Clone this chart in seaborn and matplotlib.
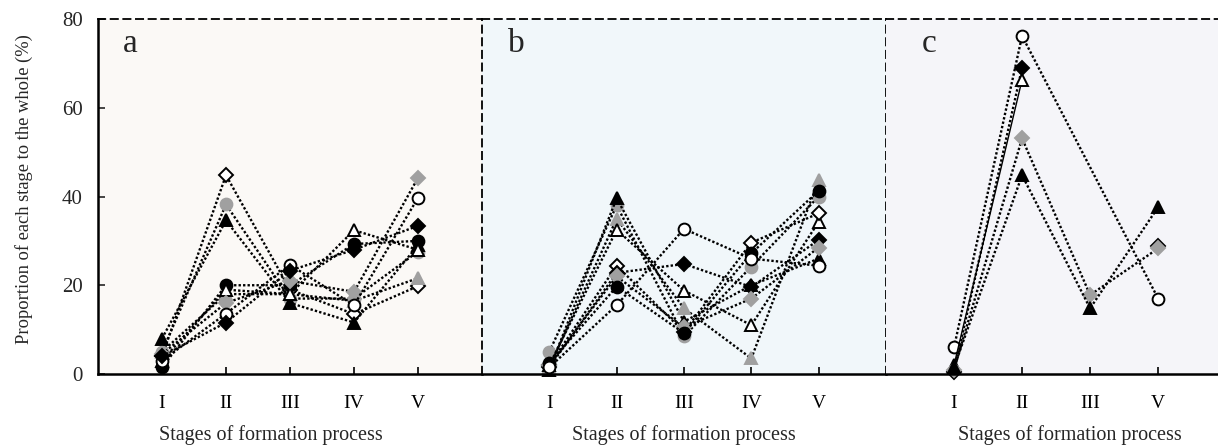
import numpy as np
import pandas as pd
import matplotlib
matplotlib.use("Agg")
import matplotlib.pyplot as plt
import seaborn as sns

sns.set_theme(style="white")
plt.rcParams['font.family'] = ['Liberation Serif', 'DejaVu Serif']

# ---------------- data ----------------
stages_ab = ["I", "II", "III", "IV", "V"]
stages_c = ["I", "II", "III", "V"]

# panel a
a_open_diamond = [4.0, 44.8, 19.0, 13.5, 19.8]
a_gray_circle = [5.0, 38.2, 17.0, 17.0, 27.6]
a_black_triangle = [8.0, 34.6, 16.0, 11.6, 29.0]
a_black_circle = [1.5, 20.0, 20.0, 29.3, 30.0]
a_open_triangle = [3.0, 19.0, 18.0, 32.4, 28.0]
a_gray_diamond = [4.5, 16.0, 21.0, 18.5, 44.2]
a_open_circle = [3.0, 13.6, 24.6, 15.5, 39.7]
a_black_diamond = [4.0, 11.6, 23.3, 28.0, 33.4]
a_gray_triangle = [5.0, 18.0, 18.0, 16.5, 21.6]

# panel b
b_black_triangle = [1.0, 39.6, 11.8, 20.0, 26.0]
b_gray_triangle = [1.5, 35.0, 14.8, 3.5, 43.7]
b_open_triangle = [2.0, 32.5, 18.8, 11.0, 34.3]
b_open_diamond = [2.0, 24.4, 9.5, 29.6, 36.2]
b_black_diamond = [1.5, 22.8, 24.8, 19.6, 30.2]
b_gray_diamond = [2.0, 22.0, 10.5, 17.0, 28.5]
b_black_circle = [2.4, 19.7, 9.2, 27.2, 41.3]
b_open_circle = [1.5, 15.5, 32.7, 26.0, 24.4]
b_gray_circle = [5.0, 38.0, 8.5, 24.2, 40.0]

# panel c (NaN = no value)
c_open_circle = [6.0, 76.2, np.nan, 17.0]
c_black_diamond = [0.5, 69.0, np.nan, 28.9]
c_open_triangle = [2.0, 66.3, np.nan, np.nan]
c_gray_diamond = [1.0, 53.1, 17.8, 28.3]
c_black_triangle = [1.5, 44.8, 14.8, 37.6]

yticks = [0, 20, 40, 60, 80]
xlabel = "Stages of formation process"
ylabel = "Proportion of each stage to the whole (%)"

GRAY = "#a0a0a0"
styles = {
    "open_circle": ("o", "white", "black"),
    "black_circle": ("o", "black", "black"),
    "gray_circle": ("o", GRAY, GRAY),
    "open_triangle": ("^", "white", "black"),
    "black_triangle": ("^", "black", "black"),
    "gray_triangle": ("^", GRAY, GRAY),
    "open_diamond": ("D", "white", "black"),
    "black_diamond": ("D", "black", "black"),
    "gray_diamond": ("D", GRAY, GRAY),
}

panel_a = {
    "open_diamond": a_open_diamond, "gray_triangle": a_gray_triangle,
    "gray_circle": a_gray_circle,
    "black_triangle": a_black_triangle, "black_circle": a_black_circle,
    "open_triangle": a_open_triangle, "gray_diamond": a_gray_diamond,
    "open_circle": a_open_circle, "black_diamond": a_black_diamond,
}
panel_b = {
    "gray_circle": b_gray_circle,
    "black_triangle": b_black_triangle, "gray_triangle": b_gray_triangle,
    "open_triangle": b_open_triangle, "open_diamond": b_open_diamond,
    "black_diamond": b_black_diamond, "gray_diamond": b_gray_diamond,
    "black_circle": b_black_circle, "open_circle": b_open_circle,
}
panel_c = {
    "open_circle": c_open_circle, "black_diamond": c_black_diamond,
    "open_triangle": c_open_triangle, "gray_diamond": c_gray_diamond,
    "black_triangle": c_black_triangle,
}
# series that connect across a missing stage
bridge_c = {"open_circle"}
solid_c = {"open_triangle"}

W, H = 1218, 445
fig = plt.figure(figsize=(W / 100, H / 100), dpi=100)
bot, top = 374, 19
def pos(x0, x1):
    return [x0 / W, 1 - bot / H, (x1 - x0) / W, (bot - top) / H]

ax_a = fig.add_axes(pos(98, 482))
ax_b = fig.add_axes(pos(482, 886))
ax_c = fig.add_axes(pos(886, 1218))

bgs = ["#fbf9f6", "#f1f7fa", "#f5f5f9"]


def draw(ax, data, stages, bridge=(), solid=()):
    xs = np.arange(1, len(stages) + 1)
    for name, vals in data.items():
        m, fc, ec = styles[name]
        vals = np.asarray(vals, dtype=float)
        ok = ~np.isnan(vals)
        if name in bridge:
            segs = [np.where(ok)[0]]
        else:
            segs, cur = [], []
            for i, v in enumerate(ok):
                if v:
                    cur.append(i)
                elif cur:
                    segs.append(cur); cur = []
            if cur:
                segs.append(cur)
        ls = "-" if name in solid else (0, (1, 0.9))
        lw = 1.0 if name in solid else 1.7
        for seg in segs:
            seg = np.asarray(seg)
            df = pd.DataFrame({"x": xs[seg], "y": vals[seg]})
            sns.lineplot(data=df, x="x", y="y", ax=ax, color="black",
                         linestyle=ls, linewidth=lw, marker=m,
                         markersize=8.5 if m != "D" else 7.2,
                         markerfacecolor=fc, markeredgecolor=ec,
                         markeredgewidth=1.4, clip_on=False, sort=False,
                         estimator=None)


draw(ax_a, panel_a, stages_ab)
draw(ax_b, panel_b, stages_ab)
draw(ax_c, panel_c, stages_c, bridge=bridge_c, solid=solid_c)

for ax, bg, stg, letter, lx, xmax in [
    (ax_a, bgs[0], stages_ab, "a", 0.085, 6.0),
    (ax_b, bgs[1], stages_ab, "b", 0.085, 6.0),
    (ax_c, bgs[2], stages_c, "c", 0.13, 4.88),
]:
    ax.set_facecolor(bg)
    ax.set_xlim(0, xmax)
    ax.set_ylim(0, 80)
    ax.set_xticks(np.arange(1, len(stg) + 1))
    ax.set_xticklabels(stg)
    ax.tick_params(axis="x", direction="in", length=5, width=1.2,
                   labelsize=14, pad=15, colors="black", bottom=True)
    ax.text(lx, 0.93, letter, transform=ax.transAxes, fontsize=24,
            ha="center", va="center")
    ax.set_xlabel(xlabel, fontsize=14.5)
    ax.set_ylabel("")
    for s in ax.spines.values():
        s.set_visible(True)
        s.set_color("black")
    ax.spines["bottom"].set_linewidth(1.8)
    ax.spines["top"].set_linestyle((0, (4, 3)))
    ax.spines["top"].set_linewidth(1.3)

ax_a.set_yticks(yticks)
ax_a.tick_params(axis="y", direction="in", length=5, width=1.2,
                 labelsize=15, pad=11, left=True)
ax_a.set_ylabel(ylabel, fontsize=13.3)
ax_a.spines["left"].set_linewidth(1.8)
ax_a.spines["right"].set_visible(False)

ax_b.set_yticks([])
ax_b.spines["left"].set_linestyle((0, (4, 3)))
ax_b.spines["left"].set_linewidth(1.3)
ax_b.spines["right"].set_linestyle((0, (4, 3)))
ax_b.spines["right"].set_linewidth(1.3)

ax_c.set_yticks([])
ax_c.spines["left"].set_visible(False)
ax_c.spines["right"].set_visible(False)

ax_a.yaxis.set_label_coords(-0.17, 0.52)
ax_a.xaxis.set_label_coords(0.45, -0.143)
ax_b.xaxis.set_label_coords(0.5, -0.145)
ax_c.xaxis.set_label_coords(0.555, -0.145)

fig.savefig("out.png", dpi=100)
